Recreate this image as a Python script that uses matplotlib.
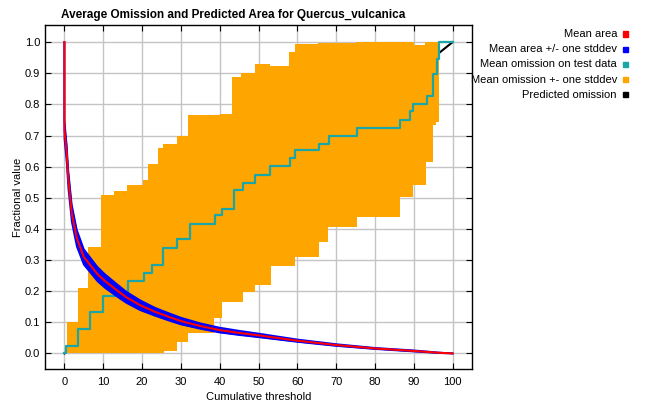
import matplotlib
matplotlib.use("Agg")
import matplotlib.pyplot as plt
import numpy as np
from matplotlib.patches import Rectangle

plt.rcParams['font.family'] = ['Liberation Sans', 'DejaVu Sans']

## Data
# mean predicted area (red) and its stddev (blue band)
area_x = [0, 0, 0.3, 0.6, 1.0, 1.9, 3.2, 5.0, 6.6, 8.5, 10.5, 13.5, 16, 19.5, 23.3, 27, 30,
          35, 40, 45, 50, 60, 70, 80, 90, 96.6, 100]
area_y = [1.0, 0.72, 0.68, 0.64, 0.56, 0.45, 0.37, 0.31, 0.285, 0.255, 0.232, 0.203, 0.18, 0.155,
          0.134, 0.117, 0.104, 0.088, 0.075, 0.066, 0.058, 0.041, 0.027, 0.016, 0.008, 0.002, 0.0]
area_sd = [0.0, 0.03, 0.03, 0.03, 0.029, 0.028, 0.027, 0.025, 0.024, 0.023, 0.022, 0.02, 0.018,
           0.016, 0.013, 0.012, 0.011, 0.009, 0.008, 0.007, 0.006, 0.004, 0.003, 0.002, 0.002, 0.001, 0.0]

# mean omission on test data (teal), step values
om_x = [0, 0.4, 3.6, 6.6, 10.0, 13.0, 16.5, 20.5, 22.5, 25.5, 28.9, 32.3, 38.7, 40.5, 43.8, 46.0,
        49.0, 53.0, 58.2, 59.5, 65.7, 68.1, 75.3, 86.5, 88.9, 89.7, 93.3, 95.0, 96.0, 96.6, 100]
om_y = [0, 0.023, 0.080, 0.134, 0.184, 0.198, 0.233, 0.257, 0.283, 0.340, 0.366, 0.415, 0.444,
        0.465, 0.524, 0.549, 0.574, 0.603, 0.627, 0.652, 0.674, 0.700, 0.724, 0.749, 0.778, 0.800,
        0.827, 0.899, 0.947, 1.0, 1.0]

# mean omission + stddev (upper orange edge)
up_x = [0, 0.6, 3.6, 6.2, 9.5, 12.8, 16.2, 20.2, 21.6, 24.2, 25.5, 28.9, 31.9, 40.0, 43.2, 45.6,
        49.0, 52.9, 57.8, 59.3, 65.4, 75.0, 90.0, 93.0, 96.6]
up_y = [0, 0.10, 0.209, 0.342, 0.508, 0.522, 0.540, 0.556, 0.610, 0.660, 0.674, 0.698, 0.765,
        0.770, 0.888, 0.900, 0.930, 0.923, 0.968, 0.993, 0.997, 1.0, 0.99, 1.0, 1.0]

# mean omission - stddev (lower orange edge)
lo_x = [0, 25.6, 28.9, 31.9, 38.5, 40.6, 45.9, 49.1, 53.1, 59.5, 65.7, 68.0, 75.3, 86.5, 89.9,
        93.2, 95.0, 95.6, 96.6]
lo_y = [0, 0.008, 0.037, 0.066, 0.115, 0.166, 0.198, 0.219, 0.280, 0.310, 0.358, 0.406, 0.438,
        0.503, 0.540, 0.615, 0.735, 0.745, 1.0]

# predicted omission (black)
pred_x = [0, 100]
pred_y = [0, 1]

legend_labels = ["Mean area", "Mean area +/- one stddev", "Mean omission on test data",
                 "Mean omission +- one stddev", "Predicted omission"]
legend_colors = ["#ff0000", "#0000ff", "#1aa6a6", "#ffa500", "#000000"]


def steps(xs, ys):
    px, py = [], []
    for i in range(len(xs) - 1):
        px += [xs[i], xs[i + 1]]
        py += [ys[i], ys[i]]
    px.append(xs[-1])
    py.append(ys[-1])
    return px, py


fig = plt.figure(figsize=(6.51, 4.04), dpi=100)
ax = fig.add_axes([45 / 651, 35 / 404, 427 / 651, 344 / 404])

ax.plot(pred_x, pred_y, color='black', lw=1.5, zorder=2)

ux, uy = steps(up_x, up_y)
lx, ly = steps(lo_x, lo_y)
ax.fill(ux + lx[::-1], uy + ly[::-1], color='#ffa500', lw=0, zorder=3)

tx, ty = steps(om_x, om_y)
ax.plot(tx, ty, color='#1aa6a6', lw=1.6, zorder=4)

a_x = np.array(area_x)
a_y = np.array(area_y)
a_sd = np.array(area_sd)
ax.fill_between(a_x, a_y - a_sd, a_y + a_sd, color='#0000ff', lw=0, zorder=5)
ax.plot(a_x, a_y + a_sd, color='#0000ff', lw=1.2, zorder=5)
ax.plot(a_x, a_y - a_sd, color='#0000ff', lw=1.2, zorder=5)
ax.plot(a_x, a_y, color='#ff0000', lw=1.5, zorder=6)

ax.set_xlim(-5, 105)
ax.set_ylim(-0.05, 1.055)
ax.set_xticks(np.arange(0, 101, 10))
ax.set_yticks(np.arange(0, 1.01, 0.1))
ax.set_yticklabels([f"{v:.1f}" for v in np.arange(0, 1.01, 0.1)])
ax.tick_params(direction='in', top=True, right=True, length=4, labelsize=8, colors='black')
ax.tick_params(axis='x', pad=6)
ax.grid(True, color='#c4c4c4', lw=1)
ax.set_axisbelow(True)
for s in ax.spines.values():
    s.set_linewidth(1)

ax.set_xlabel("Cumulative threshold", fontsize=8, labelpad=3)
ax.set_ylabel("Fractional value", fontsize=8, labelpad=1)
ax.set_title("Average Omission and Predicted Area for Quercus_vulcanica",
             fontsize=8.5, fontweight='bold', pad=5, x=0.441)

# legend at the right, text right-aligned with small square markers
for i, (lab, col) in enumerate(zip(legend_labels, legend_colors)):
    ypix = 34 + i * 15.2
    fig.text(617 / 651, 1 - ypix / 404, lab, ha='right', va='center', fontsize=8)
    fig.patches.append(Rectangle((623 / 651, 1 - (ypix + 2.5) / 404), 5 / 651, 5 / 404,
                                 transform=fig.transFigure, color=col, figure=fig))

fig.savefig("out.png", dpi=100)
